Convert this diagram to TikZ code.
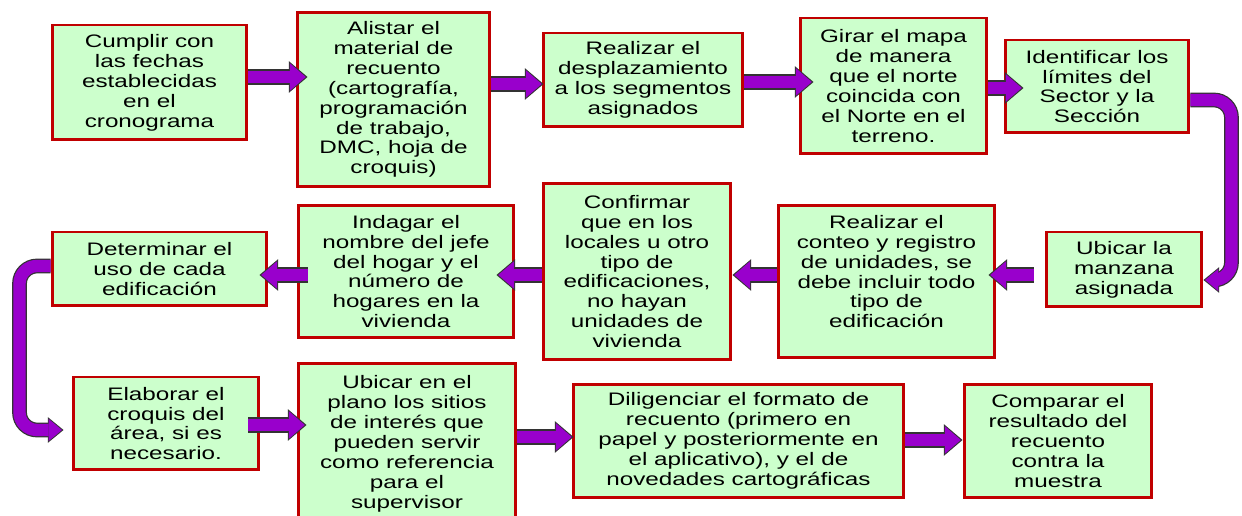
\documentclass[tikz,border=0pt]{standalone}
\usepackage{fontspec}
\setmainfont{Liberation Sans}[FakeStretch=1.34]
\usetikzlibrary{arrows.meta, positioning, calc}
\definecolor{verdepaso}{RGB}{204,255,204}
\definecolor{rojoborde}{RGB}{192,0,0}
\definecolor{violeta}{RGB}{153,0,204}
\tikzstyle{paso} = [rectangle, draw=rojoborde, line width=1.7pt, fill=verdepaso, align=center, inner sep=2pt, font=\fontsize{10.3pt}{11.34pt}\selectfont]
\tikzstyle{flecha} = [draw=violeta, line width=7.2pt, shorten >=1pt, -{Triangle[length=9pt, width=15.6pt, line width=0pt]}, preaction={draw=black!80, line width=8.8pt, shorten >=0pt, -{Triangle[length=10.6pt, width=18pt, line width=0pt]}}]
\tikzstyle{curva} = [draw=violeta, line width=7pt, rounded corners=0.35cm, shorten >=0.9pt, -{Triangle[length=7.6pt, width=12.6pt, line width=0pt]}, preaction={draw=black!80, line width=8.4pt, shorten >=0pt, -{Triangle[length=8.9pt, width=14.6pt, line width=0pt]}}]

\begin{document}
\begin{tikzpicture}[x=0.02cm, y=-0.02cm]
\useasboundingbox (0,0) rectangle (1242,516);
% fila de arriba
\node (paso1) [paso, minimum width=3.9cm, minimum height=2.3cm] at (149.5,82.5) {Cumplir con\\las fechas\\establecidas\\en el\\cronograma};
\node (paso2) [paso, minimum width=3.86cm, minimum height=3.5cm] at (393.5,99.5) {Alistar el\\material de\\recuento\\(cartografía,\\programación\\de trabajo,\\DMC, hoja de\\croquis)};
\node (paso3) [paso, minimum width=4.0cm, minimum height=1.88cm] at (643,80) {Realizar el\\desplazamiento\\a los segmentos\\asignados};
\node (paso4) [paso, minimum width=3.74cm, minimum height=2.72cm] at (893.5,86) {Girar el mapa\\de manera\\que el norte\\coincida con\\el Norte en el\\terreno.};
\node (paso5) [paso, minimum width=3.68cm, minimum height=1.86cm] at (1097,86.5) {Identificar los\\límites del\\Sector y la\\Sección};
% fila del medio
\node (paso6) [paso, minimum width=3.12cm, minimum height=1.5cm] at (1124,269.5) {Ubicar la\\manzana\\asignada};
\node (paso7) [paso, minimum width=4.34cm, minimum height=3.06cm, text depth=0.4cm] at (886.5,281.5) {Realizar el\\conteo y registro\\de unidades, se\\debe incluir todo\\tipo de\\edificación};
\node (paso8) [paso, minimum width=3.76cm, minimum height=3.54cm] at (637,271.5) {Confirmar\\que en los\\locales u otro\\tipo de\\edificaciones,\\no hayan\\unidades de\\vivienda};
\node (paso9) [paso, minimum width=4.32cm, minimum height=2.66cm] at (406,271.5) {Indagar el\\nombre del jefe\\del hogar y el\\número de\\hogares en la\\vivienda};
\node (paso10) [paso, minimum width=4.3cm, minimum height=1.48cm] at (159.5,269) {Determinar el\\uso de cada\\edificación};
% fila de abajo
\node (paso11) [paso, minimum width=3.72cm, minimum height=1.86cm] at (166,423.5) {Elaborar el\\croquis del\\área, si es\\necesario.};
\node (paso12) [paso, minimum width=4.36cm, minimum height=3.24cm] at (407,444) {Ubicar en el\\plano los sitios\\de interés que\\pueden servir\\como referencia\\para el\\supervisor};
\node (paso13) [paso, minimum width=6.62cm, minimum height=2.28cm] at (738.5,441) {Diligenciar el formato de\\recuento (primero en\\papel y posteriormente en\\el aplicativo), y el de\\novedades cartográficas};
\node (paso14) [paso, minimum width=3.76cm, minimum height=2.28cm] at (1058,441) {Comparar el\\resultado del\\recuento\\contra la\\muestra};

% flechas
\draw[flecha] (paso1.east |- 0,77) -- ($(paso2.west |- 0,77)+(12,0)$);
\draw[flecha] (paso2.east |- 0,84) -- ($(paso3.west |- 0,84)+(2,0)$);
\draw[flecha] (paso3.east |- 0,82) -- ($(paso4.west |- 0,82)+(15,0)$);
\draw[flecha] (paso4.east |- 0,88) -- ($(paso5.west |- 0,88)+(20,0)$);
\draw[curva] (paso5.east |- 0,100) -- ++(41,0) |- (paso6.east |- 0,280);
\draw[flecha] ($(paso6.west |- 0,275)+(-11,0)$) -- ($(paso7.east |- 0,275)+(-8,0)$);
\draw[flecha] (paso7.west |- 0,275) -- (paso8.east |- 0,275);
\draw[flecha] (paso8.west |- 0,275) -- ($(paso9.east |- 0,275)+(-19,0)$);
\draw[flecha] ($(paso9.west |- 0,275)+(11,0)$) -- ($(paso10.east |- 0,275)+(-9,0)$);
\draw[curva] (paso10.west |- 0,266) -- ++(-31,0) |- ($(paso11.west |- 0,430)+(-8,0)$);
\draw[flecha] ($(paso11.east |- 0,425)+(-12,0)$) -- ($(paso12.west |- 0,425)+(10,0)$);
\draw[flecha] (paso12.east |- 0,437) -- ($(paso13.west |- 0,437)+(2,0)$);
\draw[flecha] (paso13.east |- 0,440) -- (paso14.west |- 0,440);
\end{tikzpicture}
\end{document}
